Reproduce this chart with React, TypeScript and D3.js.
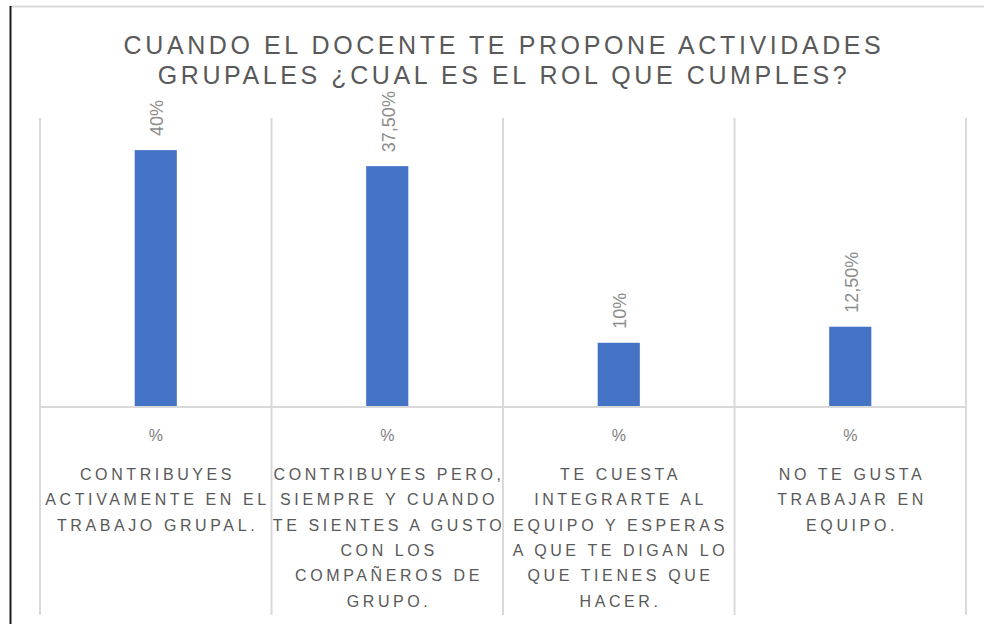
import React, { useEffect, useRef } from "react";
import * as d3 from "d3";

const titleLines = [
  "CUANDO EL DOCENTE TE PROPONE ACTIVIDADES",
  "GRUPALES ¿CUAL ES EL ROL QUE CUMPLES?",
];

const categories = ["activo", "condicional", "cuesta", "noGusta"];

const categoryLines = [
  ["CONTRIBUYES", "ACTIVAMENTE EN EL", "TRABAJO GRUPAL."],
  ["CONTRIBUYES PERO,", "SIEMPRE Y CUANDO", "TE SIENTES A GUSTO", "CON LOS", "COMPAÑEROS DE", "GRUPO."],
  ["TE CUESTA", "INTEGRARTE AL", "EQUIPO Y ESPERAS", "A QUE TE DIGAN LO", "QUE TIENES QUE", "HACER."],
  ["NO TE GUSTA", "TRABAJAR EN", "EQUIPO."],
];

const values = [0.4, 0.375, 0.1, 0.125];
const valueLabels = ["40%", "37,50%", "10%", "12,50%"];
const unitLabels = ["%", "%", "%", "%"];

const W = 984;
const H = 624;

const App = () => {
  const ref = useRef<SVGSVGElement>(null);

  useEffect(() => {
    drawChart();
  }, []);

  const drawChart = () => {
    const svg = d3.select(ref.current);
    svg.selectAll("*").remove();

    const plot = { left: 40, right: 966, top: 118, base: 407, bottom: 615 };
    const grid = "#d9d9d9";
    const font = "'Liberation Sans', Arial, sans-serif";

    // frame: gray top edge and dark left edge
    svg.append("line")
      .attr("x1", 10).attr("x2", W).attr("y1", 6.5).attr("y2", 6.5)
      .attr("stroke", grid).attr("stroke-width", 2);
    svg.append("line")
      .attr("x1", 10.5).attr("x2", 10.5).attr("y1", 6).attr("y2", H)
      .attr("stroke", "#1a1a1a").attr("stroke-width", 2);

    // title
    svg.append("g")
      .selectAll("text")
      .data(titleLines)
      .enter()
      .append("text")
      .attr("x", 504)
      .attr("y", (d, i) => 54 + i * 30)
      .attr("text-anchor", "middle")
      .attr("font-family", font)
      .attr("font-size", 25)
      .attr("letter-spacing", 3.6)
      .attr("fill", "#595959")
      .text((d) => d);

    const x = d3.scaleBand().domain(categories).range([plot.left, plot.right]);
    const y = d3.scaleLinear().domain([0, 0.45]).range([plot.base, plot.top]);
    const barW = x.bandwidth() * 0.182;

    // vertical grid lines at category boundaries
    const bounds = categories.map((c) => x(c)).concat([plot.right]);
    svg.append("g")
      .selectAll("line")
      .data(bounds)
      .enter()
      .append("line")
      .attr("x1", (d) => d).attr("x2", (d) => d)
      .attr("y1", plot.top).attr("y2", plot.bottom)
      .attr("stroke", grid).attr("stroke-width", 2);

    // bars
    svg.append("g")
      .selectAll("rect")
      .data(values)
      .enter()
      .append("rect")
      .attr("x", (d, i) => x(categories[i]) + x.bandwidth() / 2 - barW / 2)
      .attr("y", (d) => y(d))
      .attr("width", barW)
      .attr("height", (d) => plot.base - y(d))
      .attr("fill", "#4472c4");

    // horizontal axis line
    svg.append("line")
      .attr("x1", plot.left).attr("x2", plot.right)
      .attr("y1", plot.base).attr("y2", plot.base)
      .attr("stroke", grid).attr("stroke-width", 2);

    // rotated value labels
    svg.append("g")
      .selectAll("text")
      .data(values)
      .enter()
      .append("text")
      .attr("transform", (d, i) => {
        const cx = x(categories[i]) + x.bandwidth() / 2 + 1;
        return `translate(${cx},${y(d) - 14}) rotate(-90)`;
      })
      .attr("dy", "0.35em")
      .attr("font-family", font)
      .attr("font-size", 18)
      .attr("fill", "#8c8c8c")
      .text((d, i) => valueLabels[i]);

    // axis labels
    const ax = svg.append("g");
    ax.selectAll("text.unit")
      .data(unitLabels)
      .enter()
      .append("text")
      .attr("class", "unit")
      .attr("x", (d, i) => x(categories[i]) + x.bandwidth() / 2)
      .attr("y", 441)
      .attr("text-anchor", "middle")
      .attr("font-family", font)
      .attr("font-size", 16)
      .attr("fill", "#7f7f7f")
      .text((d) => d);

    categoryLines.forEach((lines, i) => {
      const cx = x(categories[i]) + x.bandwidth() / 2;
      ax.append("g")
        .selectAll("text")
        .data(lines)
        .enter()
        .append("text")
        .attr("x", cx + 1.8)
        .attr("y", (d, j) => 480 + j * 25.3)
        .attr("text-anchor", "middle")
        .attr("font-family", font)
        .attr("font-size", 16)
        .attr("letter-spacing", 3.6)
        .attr("fill", "#595959")
        .text((d) => d);
    });
  };

  return (
    <div style={{ position: "absolute", left: 0, top: 0, width: W, height: H, background: "#fff" }}>
      <svg ref={ref} width={W} height={H}></svg>
    </div>
  );
};

export default App;
